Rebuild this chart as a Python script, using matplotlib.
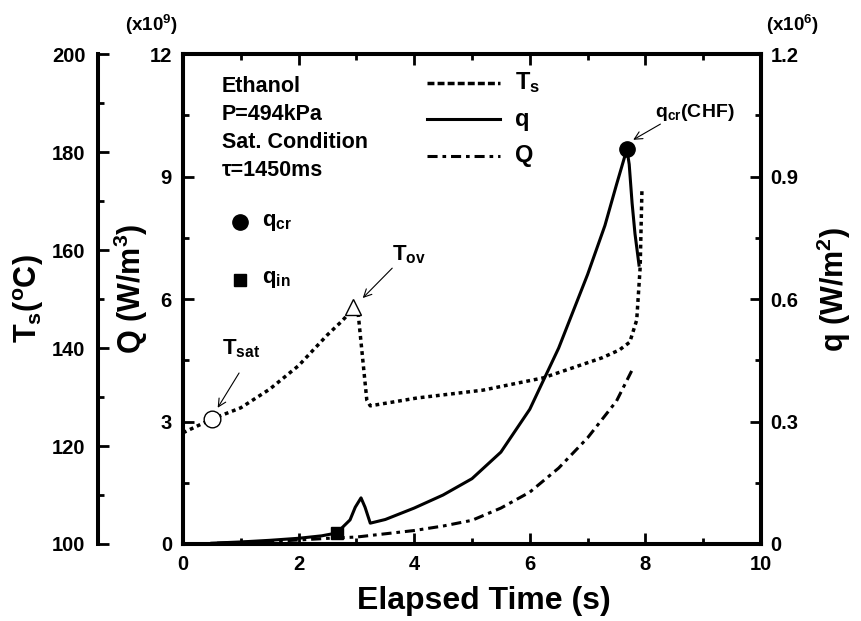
import matplotlib.pyplot as plt
from matplotlib.lines import Line2D
from matplotlib.ticker import MultipleLocator, FuncFormatter

plt.rcParams["font.family"] = "Liberation Sans"
plt.rcParams["font.weight"] = "bold"
plt.rcParams["axes.labelweight"] = "bold"
plt.rcParams["mathtext.fontset"] = "custom"
plt.rcParams["mathtext.rm"] = "Liberation Sans:bold"
plt.rcParams["mathtext.it"] = "Liberation Sans:bold"
plt.rcParams["mathtext.bf"] = "Liberation Sans:bold"
plt.rcParams["mathtext.sf"] = "Liberation Sans:bold"
plt.rcParams["mathtext.default"] = "rm"

# surface temperature T_s (degC)
t_ts = [0.0, 0.5, 1.0, 1.5, 2.0, 2.5, 2.75, 2.89, 2.94, 3.03, 3.18, 3.24,
        4.05, 5.19, 6.23, 7.25, 7.55, 7.73, 7.85, 7.91, 7.94]
ts = [122.7, 125.5, 127.8, 131.6, 136.4, 142.7, 145.5, 147.3, 148.2, 147.1,
      129.4, 128.2, 129.8, 131.4, 133.9, 138.0, 139.6, 141.2, 145.7, 156.5,
      172.0]

# heat flux q (x10^6 W/m2)
t_q = [0.5, 1.0, 1.5, 2.0, 2.4, 2.66, 2.89, 2.98, 3.08, 3.15, 3.24, 3.5,
       4.0, 4.5, 5.0, 5.5, 6.0, 6.5, 7.0, 7.3, 7.5, 7.68, 7.72, 7.77, 7.82,
       7.89]
q = [0.002, 0.005, 0.009, 0.014, 0.02, 0.027, 0.059, 0.09, 0.113, 0.09,
     0.051, 0.06, 0.088, 0.12, 0.16, 0.225, 0.33, 0.48, 0.66, 0.78, 0.88,
     0.967, 0.93, 0.835, 0.76, 0.683]

# heat generation rate Q (x10^9 W/m3)
t_Q = [0.59, 1.5, 2.66, 3.0, 3.5, 4.0, 4.5, 5.0, 5.5, 6.0, 6.5, 7.0, 7.5,
       7.77]
Q = [0.02, 0.06, 0.15, 0.17, 0.25, 0.33, 0.44, 0.58, 0.88, 1.27, 1.86, 2.6,
     3.5, 4.26]

# characteristic points
t_sat, ts_sat = 0.5, 125.5
t_ov, ts_ov = 2.94, 148.4
t_in, q_in = 2.66, 0.027
t_cr, q_cr = 7.68, 0.967

TS_STYLE = (0, (1.1, 1.1))
Q_STYLE = (0, (3.3, 1.6, 1.2, 1.6))
SPINE_W = 2.9
TICK_FS = 14.5

fig = plt.figure(figsize=(8.62, 6.21), dpi=100)
ax = fig.add_axes([0.2123, 0.124, 0.6705, 0.789])
ax_q = ax.twinx()
ax_ts = ax.twinx()

# --- Q (main, left) ---
ax.plot(t_Q, Q, color="black", lw=2.2, linestyle=Q_STYLE)
ax.set_xlim(0, 10)
ax.set_ylim(0, 12)
ax.xaxis.set_major_locator(MultipleLocator(2))
ax.xaxis.set_minor_locator(MultipleLocator(1))
ax.yaxis.set_major_locator(MultipleLocator(3))
ax.yaxis.set_minor_locator(MultipleLocator(1.5))
ax.tick_params(which="both", direction="in", top=True, width=2,
               labelsize=TICK_FS)
ax.tick_params(which="major", length=8)
ax.tick_params(which="minor", length=4)
ax.tick_params(axis="x", pad=8)
ax.tick_params(axis="y", pad=8)
for s in ax.spines.values():
    s.set_linewidth(SPINE_W)
ax.set_xlabel("Elapsed Time (s)", fontsize=23)
ax.xaxis.set_label_coords(0.52, -0.085)
ax.set_ylabel("Q (W/m$^3$)", fontsize=22)
ax.yaxis.set_label_coords(-0.057, 0.52)
ax.text(-0.055, 1.035, "(x10$^9$)", transform=ax.transAxes, fontsize=13.5,
        ha="center", va="bottom")

# --- q (right) ---
ax_q.plot(t_q, q, color="black", lw=2.2)
ax_q.plot([t_in], [q_in], marker="s", ms=9, color="black", ls="none")
ax_q.plot([t_cr], [q_cr], marker="o", ms=11, color="black", ls="none")
ax_q.set_ylim(0, 1.2)
ax_q.yaxis.set_major_locator(MultipleLocator(0.3))
ax_q.yaxis.set_minor_locator(MultipleLocator(0.15))
ax_q.yaxis.set_major_formatter(
    FuncFormatter(lambda v, p: "0" if abs(v) < 1e-9 else f"{v:.1f}"))
ax_q.tick_params(which="both", direction="in", width=2, labelsize=TICK_FS,
                 pad=7)
ax_q.tick_params(which="major", length=8)
ax_q.tick_params(which="minor", length=4)
for s in ax_q.spines.values():
    s.set_linewidth(SPINE_W)
ax_q.set_ylabel("q (W/m$^2$)", fontsize=22)
ax_q.yaxis.set_label_coords(1.093, 0.52)
ax_q.text(1.055, 1.035, "(x10$^6$)", transform=ax.transAxes, fontsize=13.5,
          ha="center", va="bottom")

# --- T_s (separate left axis) ---
ax_ts.plot(t_ts, ts, color="black", lw=2.5, linestyle=TS_STYLE)
ax_ts.plot([t_sat], [ts_sat], marker="o", ms=12, mfc="white", mec="black",
           mew=1, ls="none")
ax_ts.plot([t_ov], [ts_ov], marker="^", ms=12, mfc="white", mec="black",
           mew=1, ls="none")
ax_ts.set_ylim(100, 200)
ax_ts.spines["left"].set_position(("axes", -0.147))
ax_ts.spines["left"].set_visible(True)
ax_ts.spines["left"].set_linewidth(SPINE_W)
for side in ["right", "top", "bottom"]:
    ax_ts.spines[side].set_visible(False)
ax_ts.yaxis.set_ticks_position("left")
ax_ts.yaxis.set_label_position("left")
ax_ts.yaxis.set_major_locator(MultipleLocator(20))
ax_ts.yaxis.set_minor_locator(MultipleLocator(10))
ax_ts.tick_params(which="both", direction="in", width=2, labelsize=TICK_FS,
                  pad=9)
ax_ts.tick_params(which="major", length=8)
ax_ts.tick_params(which="minor", length=4)
ax_ts.set_ylabel("T$_s$($^o$C)", fontsize=22)
ax_ts.yaxis.set_label_coords(-0.237, 0.5)

# --- annotations ---
arrow = dict(arrowstyle="->", lw=0.8, color="black",
             shrinkA=0, shrinkB=0, mutation_scale=14)
ax_ts.annotate("", xy=(0.6, 127.8), xytext=(0.097, 0.349),
               textcoords="axes fraction", arrowprops=arrow)
ax.text(0.0675, 0.386, "T$_{sat}$", transform=ax.transAxes, fontsize=16)
ax_ts.annotate("", xy=(3.11, 150.2), xytext=(0.362, 0.563),
               textcoords="axes fraction", arrowprops=arrow)
ax.text(0.362, 0.578, "T$_{ov}$", transform=ax.transAxes, fontsize=16)
ax_q.annotate("", xy=(7.79, 0.99), xytext=(0.826, 0.857),
              textcoords="axes fraction", arrowprops=arrow)
ax.text(0.816, 0.872, "q$_{cr}$(CHF)", transform=ax.transAxes, fontsize=14)

# --- condition text ---
for i, line in enumerate(["Ethanol", "P=494kPa", "Sat. Condition",
                          "τ=1450ms"]):
    ax.text(0.0675, 0.933 - i * 0.0567, line, transform=ax.transAxes,
            fontsize=15.5, va="center", ha="left")

# --- hand-drawn legend ---
legend_rows = [("T$_s$", dict(lw=2.5, linestyle=(0, (2.0, 0.9)))),
               ("q", dict(lw=2.2, linestyle="-")),
               ("Q", dict(lw=2.2, linestyle=Q_STYLE))]
for i, (lab, style) in enumerate(legend_rows):
    y = 0.941 - i * 0.0745
    ax.add_line(Line2D([0.422, 0.548], [y, y], transform=ax.transAxes,
                       color="black", **style))
    ax.text(0.574, y, lab, transform=ax.transAxes, fontsize=17,
            va="center", ha="left")

ax.plot([0.0986], [0.657], transform=ax.transAxes, marker="o", ms=11,
        color="black", clip_on=False)
ax.text(0.137, 0.657, "q$_{cr}$", transform=ax.transAxes, fontsize=16,
        va="center")
ax.plot([0.0986], [0.539], transform=ax.transAxes, marker="s", ms=9,
        color="black", clip_on=False)
ax.text(0.137, 0.539, "q$_{in}$", transform=ax.transAxes, fontsize=16,
        va="center")

fig.savefig("out.png", dpi=100)
